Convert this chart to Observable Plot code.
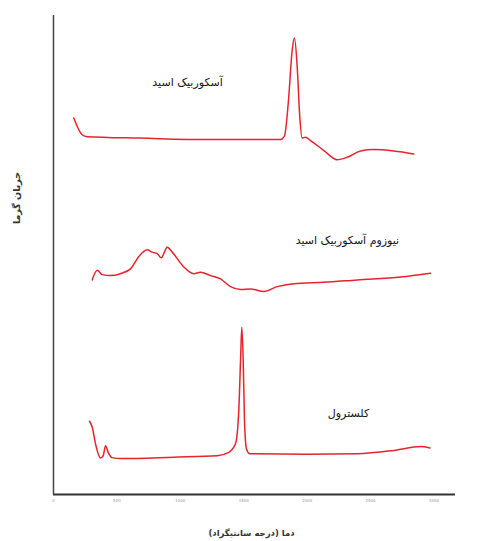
<!DOCTYPE html>
<html>
<head>
<meta charset="utf-8">
<script src="https://cdn.jsdelivr.net/npm/d3@7"></script>
<script src="https://cdn.jsdelivr.net/npm/@observablehq/plot@0.6"></script>
<style>
  html, body { margin: 0; padding: 0; background: #fff; }
  #chart { width: 500px; height: 541px; }
</style>
</head>
<body>
<div id="chart"></div>
<script>
// Temperature ticks
const xTicks = [0, 500, 1000, 1500, 2000, 2500, 3000];

// Series: ascorbic acid
const ascorbicT = [160, 226, 266, 686, 1212, 1790, 1822, 1853, 1882, 1900, 1922, 1942, 1961, 1987, 2027, 2132, 2237, 2316, 2421, 2526, 2684, 2841];
const ascorbicH = [78.6, 75.1, 74.7, 74.4, 74.1, 74.1, 74.9, 82.3, 92.7, 95.3, 89.2, 78.8, 74.4, 74.6, 73.9, 71.8, 69.9, 70.4, 71.7, 72.0, 71.7, 71.1];

// Series: niosome ascorbic acid
const niosomeT = [305, 345, 384, 449, 528, 607, 673, 739, 778, 818, 849, 897, 936, 1028, 1106, 1159, 1238, 1317, 1396, 1475, 1554, 1658, 1764, 1895, 2132, 2395, 2737, 2973];
const niosomeH = [44.8, 46.8, 45.9, 45.7, 46.1, 47.1, 49.7, 51.1, 50.6, 50.3, 49.4, 51.6, 50.6, 47.5, 46.1, 46.4, 45.7, 45.0, 43.4, 42.8, 42.9, 42.4, 43.4, 44.0, 44.3, 44.8, 45.4, 46.2];

// Series: cholesterol
const cholT = [284, 305, 331, 371, 392, 410, 431, 463, 528, 949, 1291, 1382, 1435, 1461, 1475, 1485, 1496, 1506, 1522, 1548, 2001, 2395, 2684, 2894, 2968];
const cholH = [15.3, 14.1, 10.6, 7.6, 8.1, 10.2, 8.8, 7.7, 7.5, 7.8, 8.1, 8.8, 10.6, 17.5, 28.0, 34.9, 28.0, 15.4, 9.5, 8.5, 8.4, 8.5, 9.2, 10.0, 9.7];

// Series names (labels)
const names = ["آسکوربیک اسید", "نیوزوم آسکوربیک اسید", "کلسترول"];
const labelT = [1057, 2318, 2326];
const labelH = [86.0, 53.0, 16.9];

const xLabel = "دما (درجه سانتیگراد)";
const yLabel = "جریان گرما";

const toRows = (T, H, name) => T.map((t, i) => ({t, h: H[i], name}));
const rows = [
  ...toRows(ascorbicT, ascorbicH, names[0]),
  ...toRows(niosomeT, niosomeH, names[1]),
  ...toRows(cholT, cholH, names[2])
];
const labels = names.map((n, i) => ({name: n, t: labelT[i], h: labelH[i]}));

const font = "'DejaVu Sans', 'Noto Sans', sans-serif";

const chart = Plot.plot({
  width: 500,
  height: 541,
  marginLeft: 53,
  marginRight: 45,
  marginTop: 15,
  marginBottom: 47,
  style: {fontFamily: font, background: "#fff"},
  x: {domain: [0, 3170], ticks: xTicks, tickFormat: d => String(d)},
  y: {domain: [0, 100]},
  marks: [
    Plot.axisX({ticks: xTicks, tickSize: 0, tickPadding: 5, fontSize: 4, fill: "#999", label: null, tickFormat: d => String(d)}),
    Plot.axisY({ticks: [], label: null}),
    Plot.ruleY([0], {stroke: "#333", strokeWidth: 2}),
    Plot.ruleX([0], {stroke: "#444", strokeWidth: 1.5}),
    Plot.line(rows, {x: "t", y: "h", z: "name", stroke: "#e8232b", strokeWidth: 1.5, curve: "monotone-x"}),
    Plot.text(labels, {x: "t", y: "h", text: "name", fontSize: 11, fontWeight: "normal", fill: "#111"}),
    Plot.text([yLabel], {frameAnchor: "left", textAnchor: "middle", rotate: -90, dx: -37, dy: -57, fontSize: 9.5, fontWeight: "bold", fill: "#333"}),
    Plot.text([xLabel], {frameAnchor: "bottom", textAnchor: "middle", dy: 41, dx: -3, fontSize: 8.5, fontWeight: "bold", fill: "#333"})
  ]
});
document.getElementById("chart").appendChild(chart);
</script>
</body>
</html>
